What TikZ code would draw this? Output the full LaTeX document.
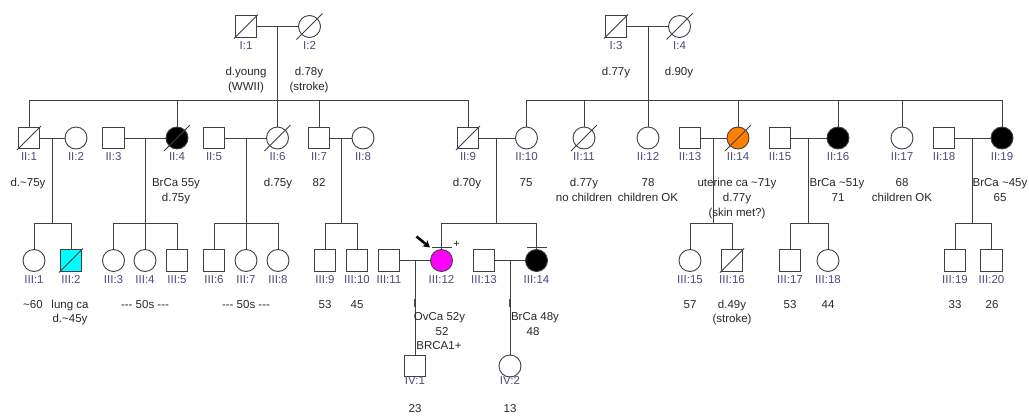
\documentclass[tikz,border=0pt]{standalone}
\usepackage{fontspec}
\setmainfont{Liberation Sans}
\usetikzlibrary{arrows.meta}
\definecolor{lc}{RGB}{64,64,64}
\definecolor{idc}{RGB}{75,75,125}
\definecolor{txc}{RGB}{40,40,40}
\definecolor{orng}{RGB}{255,128,0}
\definecolor{magn}{RGB}{255,0,255}
\definecolor{cyn}{RGB}{0,255,255}
\newcommand\decsq[1]{\draw[line] ([shift={(-12,12)}]#1.center) -- ([shift={(12,-12)}]#1.center);}
\newcommand\decci[1]{\draw[line] ([shift={(-13,13)}]#1.center) -- ([shift={(13,-13)}]#1.center);}
\begin{document}
\begin{tikzpicture}[x=1pt,y=-1pt,
 line/.style={draw=lc, line width=0.9pt},
 male/.style={line, rectangle, minimum size=21.5pt, inner sep=0pt, fill=white},
 female/.style={line, circle, minimum size=22pt, inner sep=0pt, fill=white},
 idl/.style={font=\fontsize{11.5}{13}\selectfont, text=idc, anchor=base, inner sep=0pt},
 info/.style={font=\fontsize{11.5}{13}\selectfont, text=txc, anchor=base, inner sep=0pt},
]
\useasboundingbox[fill=white] (0,0) rectangle (1029,416);

% ---------- generation I ----------
\node[male]   (I1) at (246,26.5) {};
\node[female] (I2) at (309.5,26.5) {};
\node[male]   (I3) at (616,26.5) {};
\node[female] (I4) at (679.5,26.5) {};

% ---------- generation II ----------
\node[male]   (II1)  at (29,138) {};
\node[female] (II2)  at (76,138) {};
\node[male]   (II3)  at (113.5,138) {};
\node[female,fill=black] (II4) at (177,138) {};
\node[male]   (II5)  at (214,138) {};
\node[female] (II6)  at (277.5,138) {};
\node[male]   (II7)  at (319,138) {};
\node[female] (II8)  at (363,138) {};
\node[male]   (II9)  at (468,138) {};
\node[female] (II10) at (526.5,138) {};
\node[female] (II11) at (584,138) {};
\node[female] (II12) at (648,138) {};
\node[male]   (II13) at (690,138) {};
\node[female,fill=orng] (II14) at (738,138) {};
\node[male]   (II15) at (780,138) {};
\node[female,fill=black] (II16) at (838,138) {};
\node[female] (II17) at (902,138) {};
\node[male]   (II18) at (944,138) {};
\node[female,fill=black] (II19) at (1002,138) {};

% ---------- generation III ----------
\node[female] (III1)  at (34,260.5) {};
\node[male,fill=cyn] (III2) at (71,260.5) {};
\node[female] (III3)  at (113.5,260.5) {};
\node[female] (III4)  at (145,260.5) {};
\node[male]   (III5)  at (177,260.5) {};
\node[male]   (III6)  at (214,260.5) {};
\node[female] (III7)  at (246,260.5) {};
\node[female] (III8)  at (278,260.5) {};
\node[male]   (III9)  at (325,260.5) {};
\node[male]   (III10) at (357,260.5) {};
\node[male]   (III11) at (389,260.5) {};
\node[female,fill=magn] (III12) at (441.5,260.5) {};
\node[male]   (III13) at (484,260.5) {};
\node[female,fill=black] (III14) at (536.5,260.5) {};
\node[female] (III15) at (690,260.5) {};
\node[male]   (III16) at (732,260.5) {};
\node[male]   (III17) at (790,260.5) {};
\node[female] (III18) at (828,260.5) {};
\node[male]   (III19) at (955,260.5) {};
\node[male]   (III20) at (991.5,260.5) {};

% ---------- generation IV ----------
\node[male]   (IV1) at (415,366) {};
\node[female] (IV2) at (510,366) {};

% ---------- deceased slashes ----------
\decsq{I1} \decci{I2} \decsq{I3} \decci{I4}
\decsq{II1} \decci{II4} \decci{II6} \decsq{II9} \decci{II11} \decci{II14}
\decsq{III2} \decsq{III16}

% ---------- helper coordinates ----------
\coordinate (sA) at (0,100);
\coordinate (sB) at (0,223);
\coordinate (dI1) at (277,26.5);
\coordinate (dI3) at (648,26.5);
\coordinate (d1) at (52,138);
\coordinate (d2) at (145,138);
\coordinate (d3) at (246,138);
\coordinate (d4) at (341,138);
\coordinate (d5) at (496,138);
\coordinate (d6) at (713,138);
\coordinate (d7) at (808,138);
\coordinate (d8) at (972,138);
\coordinate (e1) at (415,260.5);
\coordinate (e2) at (510,260.5);

% ---------- generation I connectors ----------
\draw[line] (I1) -- (I2);
\draw[line] (I3) -- (I4);
\draw[line] (dI1) -- (dI1 |- sA);
\draw[line] (dI3) -- (dI3 |- sA);
\draw[line] (II1.north |- sA) -- (II9.north |- sA);
\draw[line] (II10.north |- sA) -- (II19.north |- sA);
\foreach \n in {II1,II4,II6,II7,II9,II10,II11,II12,II14,II16,II17,II19}
  \draw[line] (\n.north) -- (\n.north |- sA);

% ---------- generation II connectors ----------
\draw[line] (II1) -- (II2);
\draw[line] (II3) -- (II4);
\draw[line] (II5) -- (II6);
\draw[line] (II7) -- (II8);
\draw[line] (II9) -- (II10);
\draw[line] (II13) -- (II14);
\draw[line] (II15) -- (II16);
\draw[line] (II18) -- (II19);
\foreach \d in {d1,d2,d3,d4,d5,d6,d7,d8}
  \draw[line] (\d) -- (\d |- sB);
\draw[line] (III1.north |- sB) -- (III2.north |- sB);
\draw[line] (III3.north |- sB) -- (III5.north |- sB);
\draw[line] (III6.north |- sB) -- (III8.north |- sB);
\draw[line] (III9.north |- sB) -- (III10.north |- sB);
\draw[line] (III12.north |- sB) -- (III14.north |- sB);
\draw[line] (III15.north |- sB) -- (III16.north |- sB);
\draw[line] (III17.north |- sB) -- (III18.north |- sB);
\draw[line] (III19.north |- sB) -- (III20.north |- sB);
\foreach \n in {III1,III2,III3,III4,III5,III6,III7,III8,III9,III10,III12,III14,III15,III16,III17,III18,III19,III20}
  \draw[line] (\n.north) -- (\n.north |- sB);

% ---------- generation III connectors ----------
\draw[line] (III11) -- (III12);
\draw[line] (III13) -- (III14);
\draw[line] (e1) -- (IV1.north);
\draw[line] (e2) -- (IV2.north);
\draw[idc, line width=0.9pt] (414,299) -- (414,307);
\draw[idc, line width=0.9pt] (509.5,299) -- (509.5,307);

% bars above III:12 and III:14
\draw[line] ([shift={(-10,-13.5)}]III12.center) -- ++(20,0);
\draw[line] ([shift={(-10,-13.5)}]III14.center) -- ++(20,0);
\node[info, font=\fontsize{11}{12}\selectfont, anchor=center] (plus) at (456.5,244) {+};

% proband arrow
\coordinate (pa1) at (416.5,236.5);
\coordinate (pa2) at (430,247.5);
\draw[black, line width=2.6pt, -{Stealth[length=7pt,width=8pt]}] (pa1) -- (pa2);

% ---------- ID labels ----------
\foreach \n/\t in {I1/I:1,I2/I:2,I3/I:3,I4/I:4}
  \node[idl] (L\n) at ([yshift=-23]\n.center) {\t};
\foreach \n/\t in {II1/II:1,II2/II:2,II3/II:3,II4/II:4,II5/II:5,II6/II:6,II7/II:7,II8/II:8,II9/II:9,II10/II:10,II11/II:11,II12/II:12,II13/II:13,II14/II:14,II15/II:15,II16/II:16,II17/II:17,II18/II:18,II19/II:19}
  \node[idl] (L\n) at ([yshift=-22.5]\n.center) {\t};
\foreach \n/\t in {III1/III:1,III2/III:2,III3/III:3,III4/III:4,III5/III:5,III6/III:6,III7/III:7,III8/III:8,III9/III:9,III10/III:10,III11/III:11,III12/III:12,III13/III:13,III14/III:14,III15/III:15,III16/III:16,III17/III:17,III18/III:18,III19/III:19,III20/III:20}
  \node[idl] (L\n) at ([yshift=-23]\n.center) {\t};
\foreach \n/\t in {IV1/IV:1,IV2/IV:2}
  \node[idl] (L\n) at ([yshift=-18.5]\n.center) {\t};

% ---------- info texts ----------
% gen I
\node[info] (tI1a) at (246,75.5) {d.young};
\node[info] (tI1b) at (246,90.5) {(WWII)};
\node[info] (tI2a) at (309,75.5) {d.78y};
\node[info] (tI2b) at (309,90.5) {(stroke)};
\node[info] (tI3a) at (616,75.5) {d.77y};
\node[info] (tI4a) at (679,75.5) {d.90y};
% gen II
\node[info] (tII1)   at (28,186.5)  {d.\string~75y};
\node[info] (tII4a)  at (176,186.5) {BrCa 55y};
\node[info] (tII4b)  at (176,201.5) {d.75y};
\node[info] (tII6)   at (278,186.5) {d.75y};
\node[info] (tII7)   at (319,186.5) {82};
\node[info] (tII9)   at (467,186.5) {d.70y};
\node[info] (tII10)  at (526,186.5) {75};
\node[info] (tII11a) at (584,186.5) {d.77y};
\node[info] (tII11b) at (584,201.5) {no children};
\node[info] (tII12a) at (648,186.5) {78};
\node[info] (tII12b) at (648,201.5) {children OK};
\node[info] (tII14a) at (737,186.5) {uterine ca \string~71y};
\node[info] (tII14b) at (737,201.5) {d.77y};
\node[info] (tII14c) at (737,216.5) {(skin met?)};
\node[info] (tII16a) at (837,186.5) {BrCa \string~51y};
\node[info] (tII16b) at (838,201.5) {71};
\node[info] (tII17a) at (902,186.5) {68};
\node[info] (tII17b) at (902,201.5) {children OK};
\node[info] (tII19a) at (1000,186.5) {BrCa \string~45y};
\node[info] (tII19b) at (1000,201.5) {65};
% gen III
\node[info] (tIII1)   at (33,308.5)  {\string~60};
\node[info] (tIII2a)  at (70,308.5)  {lung ca};
\node[info] (tIII2b)  at (70,322.5)  {d.\string~45y};
\node[info] (tIII4)   at (145,308.5) {-{}-{}- 50s -{}-{}-};
\node[info] (tIII7)   at (246,308.5) {-{}-{}- 50s -{}-{}-};
\node[info] (tIII9)   at (325,308.5) {53};
\node[info] (tIII10)  at (357,308.5) {45};
\node[info] (tIII12a) at (439.5,320.5) {OvCa 52y};
\node[info] (tIII12b) at (442,335.5) {52};
\node[info] (tIII12c) at (439,349.5) {BRCA1+};
\node[info] (tIII14a) at (535,320.5) {BrCa 48y};
\node[info] (tIII14b) at (533,335.5) {48};
\node[info] (tIII15)  at (690,308.5) {57};
\node[info] (tIII16a) at (732,308.5) {d.49y};
\node[info] (tIII16b) at (732,322.5) {(stroke)};
\node[info] (tIII17)  at (790,308.5) {53};
\node[info] (tIII18)  at (828,308.5) {44};
\node[info] (tIII19)  at (955,308.5) {33};
\node[info] (tIII20)  at (992,308.5) {26};
% gen IV
\node[info] (tIV1) at (415,412.5) {23};
\node[info] (tIV2) at (510,412.5) {13};
\end{tikzpicture}
\end{document}
